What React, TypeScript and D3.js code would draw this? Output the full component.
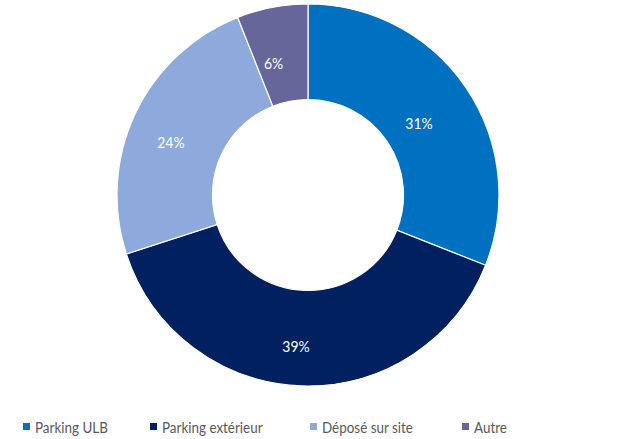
import React, { useEffect, useRef } from "react";
import * as d3 from "d3";

const categories = ["Parking ULB", "Parking extérieur", "Déposé sur site", "Autre"];
const values = [31, 39, 24, 6];
const labels = ["31%", "39%", "24%", "6%"];
const colors = ["#0070C0", "#002060", "#8EA9DB", "#67669A"];

const W = 631;
const H = 439;
const CX = 308;
const CY = 195;
const R_OUT = 191;
const R_IN = 95.5;
const LABEL_DX = -7.5;
const LABEL_DY = 8;
const LEGEND_SQUARE_X = [23, 150, 310, 462];
const LEGEND_Y = 426.5;
const FONT = "Lato, 'Open Sans', sans-serif";

export default function App() {
  const ref = useRef<SVGSVGElement | null>(null);

  useEffect(() => {
    const svg = d3.select(ref.current);
    svg.selectAll("*").remove();

    const data = categories.map((c, i) => ({ c, v: values[i], label: labels[i], color: colors[i] }));
    const pie = d3.pie<any>().value((d) => d.v).sort(null).startAngle(0).endAngle(2 * Math.PI);
    const arcs = pie(data);
    const arc = d3.arc<any>().innerRadius(R_IN).outerRadius(R_OUT);
    const labelArc = d3.arc<any>().innerRadius((R_IN + R_OUT) / 2).outerRadius((R_IN + R_OUT) / 2);

    const g = svg.append("g").attr("transform", `translate(${CX},${CY})`);
    g.selectAll("path")
      .data(arcs)
      .join("path")
      .attr("d", arc)
      .attr("fill", (d) => d.data.color)
      .attr("stroke", "#ffffff")
      .attr("stroke-width", 1.2);

    g.selectAll("text")
      .data(arcs)
      .join("text")
      .attr("transform", (d) => {
        const [x, y] = labelArc.centroid(d);
        return `translate(${x + LABEL_DX},${y + LABEL_DY}) scale(0.9,1)`;
      })
      .attr("text-anchor", "middle")
      .attr("dominant-baseline", "central")
      .attr("fill", "#ffffff")
      .attr("font-family", FONT)
      .attr("font-size", 15.5)
      .text((d) => d.data.label);

    const lg = svg.append("g");
    const items = lg
      .selectAll("g")
      .data(data)
      .join("g")
      .attr("transform", (_d, i) => `translate(${LEGEND_SQUARE_X[i]},${LEGEND_Y})`);
    items
      .append("rect")
      .attr("x", 0)
      .attr("y", -3.5)
      .attr("width", 7)
      .attr("height", 7)
      .attr("fill", (d) => d.color);
    items
      .append("text")
      .attr("transform", "translate(12,0) scale(0.84,1)")
      .attr("dominant-baseline", "central")
      .attr("fill", "#595959")
      .attr("font-family", FONT)
      .attr("font-size", 16)
      .text((d) => d.c);
  }, []);

  return (
    <svg
      ref={ref}
      width={W}
      height={H}
      style={{ position: "absolute", left: 0, top: 0, background: "#ffffff" }}
    />
  );
}
